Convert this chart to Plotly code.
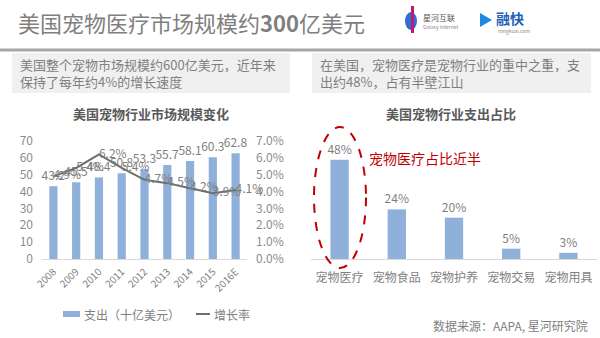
import plotly.graph_objects as go

years = ["2008", "2009", "2010", "2011", "2012", "2013", "2014", "2015", "2016E"]
spend = [43.2, 45.5, 48.4, 50.8, 53.3, 55.7, 58.1, 60.3, 62.8]
growth = [0.049, 0.054, 0.062, 0.054, 0.047, 0.045, 0.042, 0.039, 0.041]

share_cats = ["宠物医疗", "宠物食品", "宠物护养", "宠物交易", "宠物用具"]
share_vals = [48, 24, 20, 5, 3]

W, H = 600, 338
def px(x): return x / W
def py(y): return 1 - y / H

FONT = "Noto Sans CJK SC, Noto Sans, sans-serif"
GRAY = "#7f7f7f"
BAR = "#8eb0d9"
LINE = "#6e6e6e"

fig = go.Figure()
fig.add_trace(go.Bar(x=years, y=spend, name="支出（十亿美元）", marker_color=BAR, width=0.36,
                     text=[f"{v}" for v in spend], textposition="outside", cliponaxis=False,
                     constraintext="none",
                     textfont=dict(size=12, color=GRAY), xaxis="x", yaxis="y", showlegend=False))
fig.add_trace(go.Scatter(x=years, y=growth, name="增长率", mode="lines+text",
                         line=dict(color=LINE, width=2),
                         text=[f"{v*100:.1f}%" for v in growth], textposition="middle right",
                         textfont=dict(size=12, color=GRAY), cliponaxis=False,
                         xaxis="x", yaxis="y2", showlegend=False))
fig.add_trace(go.Bar(x=share_cats, y=share_vals, marker_color=BAR, width=0.32, showlegend=False,
                     text=[f"{v}%" for v in share_vals], textposition="outside", cliponaxis=False,
                     constraintext="none",
                     textfont=dict(size=12, color=GRAY), xaxis="x2", yaxis="y3"))

fig.update_layout(
    template="none",
    width=W, height=H, margin=dict(l=0, r=0, t=0, b=0, autoexpand=False),
    paper_bgcolor="white", plot_bgcolor="white",
    font=dict(family=FONT, color=GRAY),
    showlegend=False,
    xaxis=dict(type="category", domain=[px(42), px(247)], tickangle=-45, tickfont=dict(size=10, color=GRAY),
               showline=True, linecolor="#d9d9d9", linewidth=1, ticks="", showgrid=False,
               automargin=False, zeroline=False, ticklabelstandoff=2),
    yaxis=dict(domain=[py(259), py(141)], range=[0, 70], dtick=10, showgrid=False,
               tickfont=dict(size=12, color="#8c8c8c"), zeroline=False, automargin=False,
               ticks="", showline=False, ticklabelstandoff=8),
    yaxis2=dict(overlaying="y", side="right", range=[0, 0.07], dtick=0.01, tickformat=".1%",
                showgrid=False, tickfont=dict(size=12, color="#8c8c8c"), zeroline=False,
                automargin=False, ticks="", showline=False, anchor="x", ticklabelstandoff=8),
    xaxis2=dict(type="category", domain=[px(311), px(597)], anchor="y3", showline=True, linecolor="#d9d9d9",
                tickfont=dict(size=12, color=GRAY), showgrid=False, automargin=False,
                ticks="", zeroline=False, ticklabelstandoff=8),
    yaxis3=dict(domain=[py(259), py(135)], anchor="x2", range=[0, 60], visible=False,
                automargin=False),
)

shapes = [
    dict(type="line", xref="paper", yref="paper", x0=0, x1=1, y0=py(50), y1=py(50),
         line=dict(color="#a6a6a6", width=3)),
    dict(type="rect", xref="paper", yref="paper", x0=px(12), x1=px(290), y0=py(93), y1=py(53),
         fillcolor="#f0f0f0", line=dict(width=0), layer="below"),
    dict(type="rect", xref="paper", yref="paper", x0=px(312), x1=px(591), y0=py(93), y1=py(53),
         fillcolor="#f0f0f0", line=dict(width=0), layer="below"),
    dict(type="circle", xref="paper", yref="paper", x0=px(314), x1=px(366), y0=py(268), y1=py(127),
         line=dict(color="#c00000", width=2, dash="dash")),
    # legend marks
    dict(type="rect", xref="paper", yref="paper", x0=px(63), x1=px(80), y0=py(317), y1=py(311),
         fillcolor=BAR, line=dict(width=0)),
    dict(type="line", xref="paper", yref="paper", x0=px(196), x1=px(210), y0=py(314), y1=py(314),
         line=dict(color=LINE, width=2)),
    # logo marks
    dict(type="circle", xref="paper", yref="paper", x0=px(405), x1=px(417), y0=py(30), y1=py(12),
         fillcolor="#2f6fd0", line=dict(width=0)),
    dict(type="rect", xref="paper", yref="paper", x0=px(411), x1=px(414), y0=py(33), y1=py(6),
         fillcolor="#c2187a", line=dict(width=0)),
    dict(type="path", xref="paper", yref="paper",
         path=f"M {px(480)} {py(13)} L {px(492)} {py(20)} L {px(480)} {py(27)} Z",
         fillcolor="#1e88e5", line=dict(width=0)),
]

anns = [
    dict(x=px(16), y=py(22), text="美国宠物医疗市场规模约<b>300</b>亿美元", font=dict(size=22, color=GRAY),
         xanchor="left", yanchor="middle"),
    dict(x=px(421), y=py(17), text="星河互联", font=dict(size=8, color="#555"), xanchor="left", yanchor="middle"),
    dict(x=px(421), y=py(27), text="Galaxy Internet", font=dict(size=5, color="#888"), xanchor="left", yanchor="middle"),
    dict(x=px(494), y=py(18), text="<b>融快</b>", font=dict(size=14, color="#1e5fb8"), xanchor="left", yanchor="middle"),
    dict(x=px(496), y=py(31), text="rongkuai.com", font=dict(size=5, color="#888"), xanchor="left", yanchor="middle"),
    dict(x=px(18), y=py(73), text="美国整个宠物市场规模约600亿美元，近年来<br>保持了每年约4%的增长速度",
         font=dict(size=13, color=GRAY), xanchor="left", yanchor="middle", align="left"),
    dict(x=px(318), y=py(73), text="在美国，宠物医疗是宠物行业的重中之重，支<br>出约48%，占有半壁江山",
         font=dict(size=13, color=GRAY), xanchor="left", yanchor="middle", align="left"),
    dict(x=px(151), y=py(113), text="<b>美国宠物行业市场规模变化</b>", font=dict(size=13, color="#595959"),
         xanchor="center", yanchor="middle"),
    dict(x=px(451), y=py(113), text="<b>美国宠物行业支出占比</b>", font=dict(size=13, color="#595959"),
         xanchor="center", yanchor="middle"),
    dict(x=px(367), y=py(158), text="宠物医疗占比近半", font=dict(size=14, color="#c00000"),
         xanchor="left", yanchor="middle"),
    dict(x=px(82), y=py(314), text="支出（十亿美元）", font=dict(size=12, color=GRAY),
         xanchor="left", yanchor="middle"),
    dict(x=px(212), y=py(314), text="增长率", font=dict(size=12, color=GRAY),
         xanchor="left", yanchor="middle"),
    dict(x=px(590), y=py(325), text="数据来源：AAPA, 星河研究院", font=dict(size=12, color=GRAY),
         xanchor="right", yanchor="middle"),
]
for a in anns:
    a.update(xref="paper", yref="paper", showarrow=False)

fig.update_layout(shapes=shapes, annotations=anns)
fig.write_html("out.html")
